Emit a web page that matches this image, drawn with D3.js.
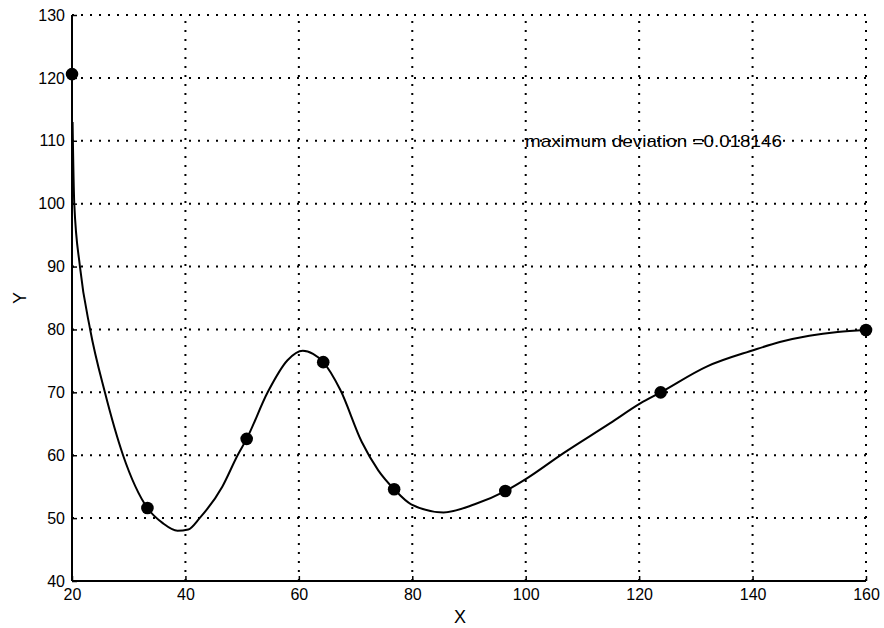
<!DOCTYPE html>
<html>
<head>
<meta charset="utf-8">
<script src="https://cdn.jsdelivr.net/npm/d3@7"></script>
<style>
  html, body { margin: 0; padding: 0; background: #fff; }
  svg { display: block; }
  text { font-family: "Liberation Sans", Arial, sans-serif; fill: #000; }
</style>
</head>
<body>
<svg id="chart" width="884" height="628"></svg>
<script>
// Data
const xTicks = [20, 40, 60, 80, 100, 120, 140, 160];
const yTicks = [40, 50, 60, 70, 80, 90, 100, 110, 120, 130];
const pointX = [20, 33.3, 50.8, 64.3, 76.8, 96.4, 123.8, 160];
const pointY = [120.6, 51.6, 62.6, 74.8, 54.6, 54.3, 70.0, 79.9];
const curveX = [20.1, 20.4, 21.4, 23.2, 25.8, 29, 33.3, 36, 38.6, 40.5, 42.5, 46.5, 49.2, 50.8, 54.5, 58, 60.7, 62.5, 64.3, 67.3, 71.1, 74, 76.8, 79.8, 85.5, 91, 96.4, 100, 106.6, 114.9, 120.2, 123.8, 131.9, 140.1, 144.8, 150, 155, 160];
const curveY = [113, 100, 90, 80, 70, 60, 51.6, 49.2, 48, 48.2, 50, 55, 60, 62.6, 70, 75.1, 76.6, 76.1, 74.8, 70.4, 62.1, 57.6, 54.6, 52.2, 50.9, 52.2, 54.3, 56.2, 60.3, 65.1, 68.25, 70, 74.1, 76.7, 78, 79, 79.6, 79.9];
const annotation = "maximum deviation =0.018146";
const xTitle = "X";
const yTitle = "Y";

const svg = d3.select("#chart");
const L = 72, R = 866, T = 15, B = 581;
const x = d3.scaleLinear().domain([20, 160]).range([L, R]);
const y = d3.scaleLinear().domain([40, 130]).range([B, T]);

// grid
const grid = svg.append("g");
grid.selectAll(".gx").data(xTicks.slice(1)).join("line")
  .attr("x1", d => x(d)).attr("x2", d => x(d))
  .attr("y1", B).attr("y2", T)
  .attr("stroke", "#000").attr("stroke-width", 2).attr("stroke-dasharray", "2,7");
grid.selectAll(".gy").data(yTicks.slice(1)).join("line")
  .attr("y1", d => y(d)).attr("y2", d => y(d))
  .attr("x1", L).attr("x2", R)
  .attr("stroke", "#000").attr("stroke-width", 2).attr("stroke-dasharray", "2,7");

// axes
const xAxis = d3.axisBottom(x).tickValues(xTicks).tickSize(-5).tickPadding(13).tickFormat(d3.format("d"));
const yAxis = d3.axisLeft(y).tickValues(yTicks).tickSize(-5).tickPadding(13).tickFormat(d3.format("d"));
const gx = svg.append("g").attr("transform", `translate(0,${B})`).call(xAxis);
const gy = svg.append("g").attr("transform", `translate(${L},0)`).call(yAxis);
[gx, gy].forEach(g => {
  g.select(".domain").attr("stroke", "#000").attr("stroke-width", 2)
    .attr("d", g === gx ? `M${L},0H${R}` : `M0,${B}V${T}`);
  g.selectAll(".tick line").attr("stroke", "#000").attr("stroke-width", 1.5);
  g.selectAll(".tick text").attr("font-size", 16).attr("font-family", "Liberation Sans, Arial, sans-serif").attr("fill", "#000");
});
gx.selectAll(".tick text").attr("dy", "0.71em").attr("y", 8);
gy.selectAll(".tick text").attr("x", -7);

// curve
const line = d3.line().x((d, i) => x(curveX[i])).y((d, i) => y(curveY[i]))
  .curve(d3.curveMonotoneX);
svg.append("path").datum(curveX).attr("d", line)
  .attr("fill", "none").attr("stroke", "#000").attr("stroke-width", 2);

// points
svg.selectAll(".pt").data(pointX).join("circle")
  .attr("cx", d => x(d)).attr("cy", (d, i) => y(pointY[i])).attr("r", 6.3)
  .attr("fill", "#000");

// annotation
svg.append("text").attr("x", 525).attr("y", y(110)).attr("dy", "0.35em")
  .attr("font-size", 17).attr("textLength", 257).attr("lengthAdjust", "spacingAndGlyphs")
  .text(annotation);

// titles
svg.append("text").attr("x", 460).attr("y", 623).attr("text-anchor", "middle")
  .attr("font-size", 18).text(xTitle);
svg.append("text").attr("transform", `translate(26,${(T + B) / 2}) rotate(-90)`)
  .attr("text-anchor", "middle").attr("font-size", 18).text(yTitle);
</script>
</body>
</html>
